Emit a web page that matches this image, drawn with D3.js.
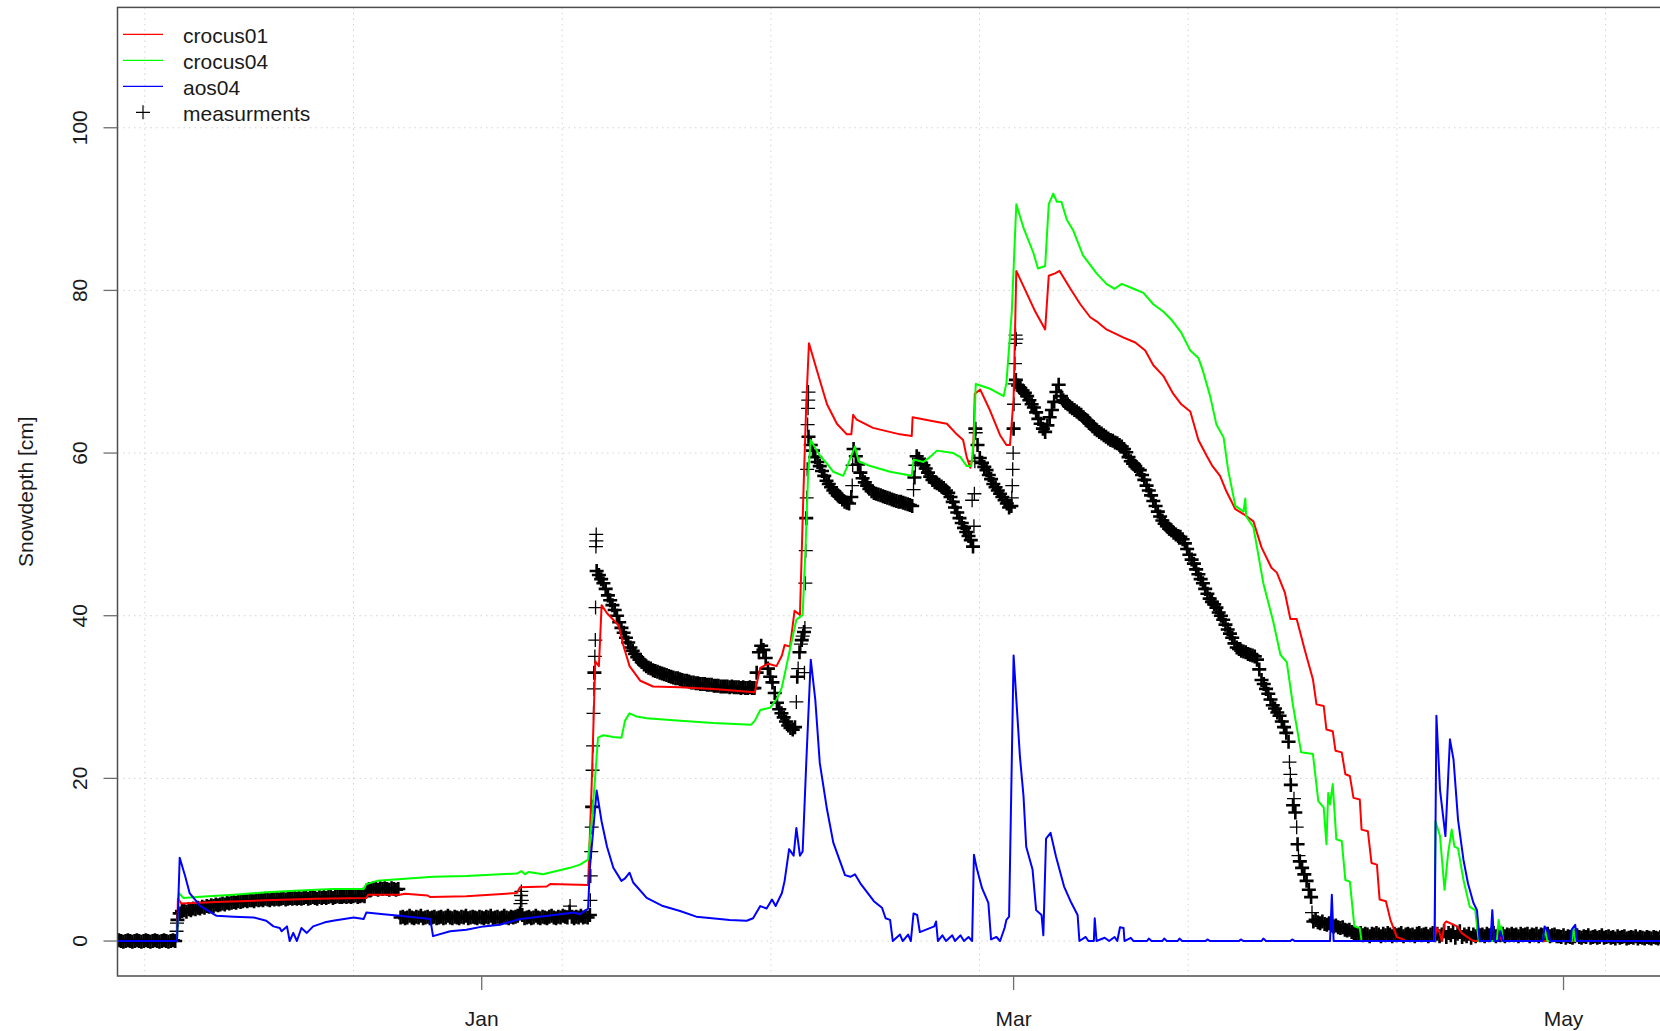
<!DOCTYPE html>
<html>
<head>
<meta charset="utf-8">
<script src="https://cdn.jsdelivr.net/npm/d3@7"></script>
<style>
  html, body { margin: 0; padding: 0; background: #fff; }
  svg { display: block; font-family: 'Liberation Sans', Arial, Helvetica, sans-serif; }
</style>
</head>
<body>
<svg width="1660" height="1031"></svg>
<script>
// all series use days counted from 2017-01-01 00:00 UTC
const crocus01 = [
  [-40.6, 0], [-33.8, 0], [-33.7, 5.2], [-33.3, 4.6], [-29.4, 4.8], [-23.9, 5.0], [-18.3, 5.2],
  [-12.8, 5.3], [-12.6, 5.7], [-9.1, 5.7], [-8.5, 5.8], [-6.0, 5.6], [-5.7, 5.4], [-1.7, 5.5],
  [3.9, 5.9], [4.25, 6.6], [7.2, 6.7], [7.6, 7.0], [11.8, 6.9], [12.2, 19.3], [12.6, 34.4],
  [13.0, 33.8], [13.3, 41.3], [13.9, 40.3], [15.2, 38.8], [15.7, 36.4], [16.4, 33.8], [17.6, 32.0],
  [19.0, 31.3], [22.0, 31.2], [25.7, 31.0], [30.3, 30.6], [30.9, 33.6], [31.8, 34.1], [32.7, 33.8],
  [33.3, 35.1], [33.6, 36.4], [34.2, 36.2], [34.7, 40.6], [35.3, 40.1], [35.7, 55.6], [36.0, 66.0],
  [36.3, 73.5], [37.2, 70.1], [38.3, 66.0], [39.4, 63.6], [40.5, 62.3], [41.0, 62.3], [41.2, 64.7],
  [41.6, 64.1], [43.4, 63.1], [46.4, 62.3], [47.7, 62.1], [47.8, 64.4], [50.1, 63.9], [51.6, 63.6],
  [52.7, 62.3], [53.4, 61.6], [53.8, 59.5], [54.2, 58.2], [54.5, 59.7], [54.7, 67.3], [55.3, 67.8],
  [56.4, 65.2], [57.5, 62.2], [58.2, 61.0], [58.6, 61.0], [59.0, 66.7], [59.3, 82.4], [60.1, 80.5],
  [61.4, 77.4], [62.5, 75.2], [62.9, 81.8], [63.6, 82.1], [64.1, 82.4], [65.3, 80.2], [66.4, 78.3],
  [67.5, 76.7], [68.2, 76.2], [69.3, 75.2], [71.2, 74.2], [72.5, 73.6], [73.6, 72.6], [74.5, 70.8],
  [75.6, 69.5], [76.7, 67.3], [77.6, 66.0], [78.6, 65.1], [79.5, 61.6], [80.4, 59.7], [81.0, 58.5],
  [81.9, 57.2], [82.6, 55.3], [83.6, 53.1], [84.5, 52.5], [85.6, 51.6], [86.5, 48.4], [87.6, 45.9],
  [88.2, 45.3], [89.1, 42.8], [89.7, 39.6], [90.4, 39.6], [91.3, 35.8], [92.2, 32.2], [92.6, 29.1],
  [93.4, 28.9], [93.7, 26.0], [94.4, 25.8], [94.7, 23.4], [95.4, 23.2], [95.8, 20.5], [96.3, 20.3],
  [96.7, 17.6], [97.4, 17.4], [97.6, 13.7], [98.3, 13.5], [98.7, 9.6], [99.3, 9.4], [99.6, 5.1],
  [100.3, 4.9], [100.8, 2.6], [101.5, 0.5], [102.2, 0.2], [102.5, 0], [105.7, 0], [105.9, 1.6],
  [106.2, 1.2], [106.5, 0], [106.8, 2.2], [107.0, 2.4], [107.6, 2.1], [108.2, 1.8], [108.7, 1.0],
  [109.3, 0.5], [110.0, 0], [112.7, 0], [112.9, 0.7], [113.2, 0], [135, 0]
];

const crocus04 = [
  [-40.6, 0], [-33.8, 0], [-33.6, 5.9], [-33.1, 5.3], [-31.2, 5.45], [-27.5, 5.7], [-23.9, 6.0],
  [-20.2, 6.2], [-16.5, 6.4], [-13.1, 6.4], [-12.8, 7.0], [-11.6, 7.4], [-5.4, 7.9], [-1.7, 8.0],
  [3.9, 8.3], [4.4, 8.6], [4.8, 8.2], [5.2, 8.5], [6.8, 8.2], [9.8, 9.0], [10.9, 9.4], [11.8, 10.0],
  [12.2, 14.7], [12.6, 20.4], [12.9, 25.0], [13.5, 25.3], [14.6, 25.1], [15.5, 25.0], [15.9, 27.1],
  [16.4, 28.0], [17.2, 27.6], [18.3, 27.4], [22.0, 27.1], [25.7, 26.8], [29.9, 26.6], [30.3, 27.1],
  [30.9, 28.4], [32.0, 28.7], [32.7, 29.7], [33.3, 31.2], [33.8, 33.8], [34.2, 35.9], [34.9, 39.5],
  [35.6, 40.1], [35.9, 47.8], [36.2, 57.2], [36.5, 61.6], [36.8, 61.0], [37.5, 59.7], [38.3, 58.7],
  [39.0, 57.7], [40.1, 57.2], [40.5, 58.2], [41.0, 59.7], [41.4, 60.8], [41.8, 59.0], [43.1, 58.4],
  [45.3, 57.7], [47.7, 57.2], [47.9, 59.2], [49.0, 58.9], [49.7, 59.5], [50.5, 60.3], [52.3, 60.0],
  [53.1, 59.5], [53.8, 58.4], [54.3, 58.4], [54.6, 61.8], [54.8, 68.5], [56.4, 67.9], [57.9, 67.0],
  [58.2, 68.6], [58.8, 77.4], [59.3, 90.6], [60.1, 87.7], [61.2, 84.6], [61.7, 82.7], [62.5, 83.0],
  [62.9, 90.6], [63.4, 91.9], [63.8, 90.9], [64.3, 90.9], [64.9, 88.7], [65.6, 87.4], [66.7, 84.3],
  [68.2, 82.1], [69.3, 80.8], [70.2, 80.2], [71.0, 80.8], [72.3, 80.2], [73.4, 79.7], [74.5, 78.3],
  [75.6, 77.4], [76.5, 76.4], [77.6, 74.8], [78.6, 72.6], [79.5, 71.7], [80.0, 70.1], [80.8, 67.0],
  [81.5, 63.5], [82.3, 61.9], [82.8, 57.9], [83.6, 53.5], [84.5, 52.8], [84.7, 54.4], [84.8, 52.2],
  [85.6, 50.9], [86.0, 48.4], [86.7, 44.0], [87.8, 39.3], [88.6, 35.2], [89.3, 34.3], [90.0, 28.9],
  [90.9, 23.2], [92.2, 23.0], [92.8, 17.2], [93.4, 16.4], [93.7, 11.9], [93.9, 18.2], [94.1, 16.8],
  [94.4, 19.3], [94.8, 12.5], [95.4, 12.3], [95.8, 7.5], [96.3, 7.3], [96.8, 1.8], [97.4, 1.6],
  [97.6, 0], [105.7, 0], [105.8, 14.7], [106.3, 12.9], [106.8, 6.3], [107.2, 10.8], [107.6, 13.7],
  [107.9, 11.6], [108.3, 11.4], [108.9, 7.5], [109.6, 4.2], [110.2, 3.8], [110.6, 0], [112.6, 0],
  [112.8, 2.6], [113.0, 1.2], [113.1, 1.8], [113.3, 0], [117.7, 0], [117.9, 1.6], [118.2, 0],
  [120.9, 0], [121.1, 1.6], [121.3, 0], [135, 0]
];

const aos04 = [
  [-40.6, 0], [-33.8, 0], [-33.5, 10.25], [-32.9, 8.0], [-32.4, 5.9], [-31.2, 4.3], [-29.4, 3.1],
  [-27.5, 3.0], [-25.3, 2.9], [-23.9, 2.5], [-23.1, 1.8], [-22.4, 1.6], [-22.2, 1.2], [-21.6, 1.8],
  [-21.3, 0], [-20.9, 1.0], [-20.5, 0], [-20.0, 1.6], [-19.4, 1.0], [-18.7, 1.8], [-17.4, 2.3],
  [-16.5, 2.5], [-14.2, 2.9], [-13.1, 2.7], [-12.8, 3.5], [-10.9, 3.3], [-9.1, 3.1], [-5.7, 2.7],
  [-5.4, 0.6], [-3.5, 1.2], [-1.7, 1.4], [0.2, 1.8], [2.0, 2.0], [4.25, 2.7], [5.7, 2.9], [8.7, 3.3],
  [10.2, 3.5], [10.9, 3.3], [11.8, 4.0], [12.0, 9.0], [12.75, 18.5], [13.3, 14.7], [13.9, 11.6],
  [14.6, 9.0], [15.5, 7.4], [15.9, 7.7], [16.4, 8.4], [16.8, 7.2], [18.3, 5.3], [20.1, 4.3],
  [22.0, 3.7], [23.8, 3.0], [26.4, 2.7], [27.5, 2.6], [29.4, 2.5], [30.1, 2.8], [30.9, 4.3],
  [31.6, 4.0], [32.2, 5.1], [32.6, 4.3], [33.3, 5.9], [33.6, 7.4], [34.1, 11.3], [34.6, 10.5],
  [34.9, 13.9], [35.3, 10.5], [35.6, 11.0], [36.0, 21.9], [36.5, 34.6], [37.0, 29.7], [37.5, 21.9],
  [38.3, 16.2], [39.0, 12.1], [39.75, 9.8], [40.3, 8.1], [40.9, 7.9], [41.4, 8.2], [42.0, 7.1],
  [43.5, 4.9], [44.4, 4.1], [44.8, 2.8], [45.3, 2.6], [45.6, 0], [46.4, 0.8], [46.7, 0], [47.3, 0.8],
  [47.6, 0], [47.9, 3.4], [48.3, 3.2], [48.6, 1.1], [50.2, 1.8], [50.4, 2.4], [50.6, 0], [51.1, 0.7],
  [51.5, 0], [52.2, 0.7], [52.5, 0], [53.1, 0.7], [53.5, 0], [54.0, 0.5], [54.4, 0], [54.6, 10.6],
  [54.9, 9.0], [55.5, 6.5], [56.2, 4.7], [56.5, 0.2], [57.1, 0.5], [57.5, 0], [58.0, 1.6], [58.2, 2.6],
  [58.5, 3.0], [59.0, 35.1], [59.7, 22.7], [60.1, 17.8], [60.4, 11.6], [61.1, 8.8], [61.5, 3.8],
  [62.1, 3.2], [62.3, 0.7], [62.6, 12.6], [63.1, 13.3], [63.7, 10.4], [64.6, 6.7], [65.4, 4.7],
  [66.1, 3.2], [66.3, 0], [67.0, 0.5], [67.3, 0], [67.9, 0], [68.0, 2.8], [68.2, 0], [69.1, 0.4],
  [69.6, 0], [70.2, 0.5], [70.5, 0], [70.8, 1.7], [71.2, 1.6], [71.3, 0], [72.0, 0.4], [72.3, 0],
  [73.8, 0], [74.0, 0.3], [74.3, 0], [75.5, 0], [75.7, 0.3], [76.0, 0], [77.2, 0], [77.4, 0.3],
  [77.7, 0], [80.3, 0], [80.5, 0.2], [80.8, 0], [84.0, 0], [84.2, 0.2], [84.5, 0], [86.5, 0],
  [86.7, 0.3], [87.0, 0], [89.7, 0], [89.9, 0.2], [90.2, 0], [94.1, 0], [94.3, 5.7], [94.5, 0],
  [105.7, 0], [105.9, 27.7], [106.3, 18.6], [106.9, 12.9], [107.4, 24.8], [107.8, 22.3], [108.3, 14.9],
  [108.9, 10.0], [109.4, 7.1], [110.0, 4.7], [110.4, 3.8], [110.7, 0], [111.9, 0], [112.1, 3.8],
  [112.3, 0], [112.8, 0], [113.0, 1.2], [113.3, 0], [117.7, 0], [117.9, 1.8], [118.3, 1.2],
  [118.5, 0], [120.8, 0], [120.9, 1.4], [121.3, 2.0], [121.5, 0], [135, 0]
];

// measured snow depth, one value every 6 hours from day -40.5
const measStart = -40.5;
const measStep = 0.25;
const measurements = [
  0, 0.1, 0, -0.1, 0, 0.1, 0, -0.1, 0, 0.1, 0, -0.1, 0, 0.1, 0, -0.1, 0, 0.1, 0, -0.1,
  0, 0.1, 0, -0.1, 0, 0.1, 0, 2.6, 3.4, 3.7, 3.8, 3.6, 3.9, 3.8, 4.0, 3.9, 4.1, 4.0, 4.2, 4.1,
  4.3, 4.2, 4.4, 4.3, 4.5, 4.4, 4.5, 4.6, 4.5, 4.7, 4.6, 4.7, 4.8, 4.7, 4.9, 4.8, 4.9, 5.0, 4.9, 5.0,
  5.0, 4.9, 5.1, 5.0, 5.1, 5.0, 5.2, 5.1, 5.0, 5.2, 5.1, 5.2, 5.1, 5.2, 5.3, 5.1, 5.2, 5.3, 5.2, 5.3,
  5.2, 5.3, 5.2, 5.3, 5.4, 5.2, 5.3, 5.4, 5.3, 5.2, 5.4, 5.3, 5.4, 5.3, 5.4, 5.5, 5.3, 5.4, 5.5, 5.4,
  5.4, 5.5, 5.4, 5.5, 5.4, 5.5, 5.6, 5.4, 5.5, 5.6, 5.5, 6.2, 6.4, 6.3, 6.5, 6.4, 6.3, 6.5, 6.4, 6.5,
  6.4, 6.3, 6.5, 6.4, 6.3, 6.4, 2.9, 3.0, 2.8, 2.9, 3.1, 2.9, 2.8, 3.0, 2.9, 3.1, 2.8, 2.9, 3.0, 2.8,
  2.9, 3.0, 2.8, 2.9, 3.0, 2.8, 2.9, 3.1, 2.9, 2.8, 3.0, 2.9, 2.8, 3.0, 2.9, 3.1, 2.8, 2.9, 3.0, 2.9,
  2.8, 3.0, 2.9, 2.8, 3.0, 2.9, 3.1, 2.8, 2.9, 3.0, 2.8, 2.9, 3.1, 2.9, 2.8, 3.0, 2.9, 3.0, 3.1, 3.4,
  3.2, 2.8, 2.9, 3.0, 2.8, 2.9, 3.1, 2.9, 2.8, 3.0, 2.9, 2.8, 3.0, 3.1, 2.9, 2.8, 3.0, 2.9, 3.1, 3.0,
  2.9, 3.6, 3.0, 2.8, 3.0, 2.9, 3.1, 2.9, 3.0, 2.9, 3.2, 16.5, 33.0, 45.5, 45.0, 44.5, 44.0, 43.3, 42.5, 41.9,
  41.3, 40.7, 40.0, 39.2, 38.5, 37.9, 37.3, 36.7, 36.1, 35.7, 35.3, 34.9, 34.6, 34.3, 34.0, 33.8, 33.6, 33.5, 33.3, 33.2,
  33.1, 33.0, 32.9, 32.8, 32.7, 32.6, 32.5, 32.4, 32.3, 32.3, 32.2, 32.1, 32.0, 32.0, 31.9, 31.8, 31.8, 31.7, 31.7, 31.6,
  31.6, 31.6, 31.5, 31.5, 31.5, 31.4, 31.4, 31.4, 31.3, 31.3, 31.3, 31.3, 31.2, 31.3, 31.2, 31.2, 31.2, 31.1, 31.2, 31.1,
  31.1, 31.2, 31.1, 31.1, 33.0, 35.5, 36.3, 35.8, 34.8, 33.5, 32.5, 31.8, 30.5, 29.3, 28.5, 28.0, 27.5, 27.0, 26.5, 26.2,
  26.0, 26.3, 32.5, 35.5, 37.0, 38.0, 52.0, 62.0, 61.0, 60.3, 59.5, 58.9, 58.4, 57.8, 57.2, 56.6, 56.2, 55.8, 55.4, 55.1,
  54.8, 54.6, 54.3, 54.0, 53.9, 53.8, 54.6, 60.5, 59.6, 58.6, 57.6, 56.9, 56.4, 56.0, 55.6, 55.3, 55.1, 55.0, 54.9, 54.8,
  54.7, 54.6, 54.5, 54.4, 54.3, 54.2, 54.1, 54.0, 54.0, 53.9, 53.8, 53.7, 53.6, 53.5, 57.0, 59.6, 59.3, 58.8, 58.5, 58.1,
  57.6, 57.1, 56.7, 56.4, 56.3, 56.1, 55.9, 55.7, 55.4, 55.1, 54.6, 54.0, 53.3, 52.7, 52.0, 51.4, 50.8, 50.3, 49.8, 49.3,
  48.5, 63.0, 61.0, 59.4, 58.8, 58.3, 57.9, 57.3, 56.8, 56.2, 55.8, 55.4, 55.0, 54.6, 54.2, 53.8, 53.3, 53.5, 63.0, 69.0,
  68.3, 68.0, 67.7, 67.4, 67.0, 66.5, 66.0, 65.6, 65.0, 64.2, 63.6, 63.0, 62.6, 63.4, 64.4, 65.3, 66.3, 67.5, 68.4, 67.0,
  66.5, 66.2, 66.0, 65.7, 65.5, 65.3, 65.1, 64.9, 64.7, 64.4, 64.1, 63.9, 63.6, 63.3, 63.0, 62.8, 62.6, 62.4, 62.2, 62.0,
  61.8, 61.6, 61.5, 61.3, 61.2, 61.0, 60.8, 60.5, 60.1, 59.5, 59.0, 58.7, 58.4, 58.1, 57.9, 57.3, 56.7, 56.0, 55.4, 54.8,
  54.1, 53.5, 52.8, 52.2, 51.7, 51.3, 51.0, 50.7, 50.5, 50.2, 50.0, 49.8, 49.7, 49.4, 48.9, 48.2, 47.5, 46.9, 46.4, 45.7,
  45.1, 44.5, 44.0, 43.3, 42.7, 42.1, 41.7, 41.4, 41.0, 40.4, 40.0, 39.5, 38.9, 38.3, 37.8, 37.3, 36.6, 36.1, 35.9, 35.7,
  35.6, 35.5, 35.3, 35.2, 35.1, 35.0, 34.6, 33.4, 32.1, 31.6, 31.0, 30.4, 29.7, 29.0, 28.6, 28.1, 27.7, 27.0, 26.3, 25.6,
  24.5, 19.2, 16.7, 15.8, 11.9, 9.8, 9.0, 8.2, 7.4, 6.3, 5.4, 2.4, 2.6, 2.3, 2.2, 2.4, 2.1, 2.0, 2.2, 1.9,
  1.8, 1.9, 1.7, 1.6, 1.7, 1.4, 1.3, 1.4, 1.1, 1.0, 0.9, 0.8, 1.0, 0.7, 0.9, 0.8, 0.6, 0.9, 0.8, 1.0,
  0.8, 0.6, 0.9, 0.7, 1.0, 0.8, 0.6, 0.9, 0.7, 0.8, 1.0, 0.6, 0.8, 0.9, 0.7, 0.8, 0.6, 0.9, 1.0, 0.7,
  0.8, 0.9, 0.6, 0.8, 1.0, 0.7, 0.9, 0.6, 0.8, 1.2, 0.5, 1.0, 0.7, 1.1, 0.4, 0.9, 1.2, 0.5, 0.8, 0.6,
  0.9, 0.4, 0.8, 0.6, 0.9, 0.7, 0.8, 0.6, 0.9, 0.7, 0.8, 1.0, 0.6, 0.8, 0.7, 0.9, 0.6, 0.8, 0.7, 0.9,
  0.7, 0.8, 0.6, 0.9, 0.7, 0.8, 0.9, 0.6, 0.8, 0.7, 0.9, 0.6, 0.8, 0.7, 0.8, 0.9, 0.6, 0.7, 0.8, 0.6,
  0.6, 0.5, 0.7, 0.4, 0.6, 0.5, 0.4, 0.6, 0.7, 0.5, 0.4, 0.6, 0.5, 0.7, 0.4, 0.5, 0.6, 0.4, 0.5, 0.7,
  0.4, 0.5, 0.6, 0.4, 0.5, 0.3, 0.6, 0.4, 0.5, 0.6, 0.3, 0.4, 0.5, 0.4, 0.6, 0.3, 0.5, 0.4, 0.3, 0.5,
  0.4, 0.3, 0.5, 0.4, 0.3, 0.5, 0.4
];

// hourly readings during the fast rises, read individually
const measExtra = [
  [-33.85, 1.2], [-33.8, 2.2], [4.3, 4.6], [4.35, 5.6], [4.4, 6.1], [4.45, 5.0], [9.8, 4.3],
  [12.05, 5.0], [12.1, 8.0], [12.15, 11.0], [12.2, 14.0], [12.3, 21.0], [12.35, 24.0], [12.4, 28.0],
  [12.45, 31.0], [12.55, 35.0], [12.6, 37.0], [12.63, 41.0], [12.67, 48.5], [12.7, 50.0], [12.72, 49.2],
  [34.9, 29.4], [35.1, 33.5], [35.4, 36.5], [35.6, 37.5], [35.8, 33.0], [35.85, 38.5], [35.9, 44.0],
  [35.95, 48.0], [36.05, 54.5], [36.1, 58.0], [36.15, 63.5], [36.2, 65.5], [36.22, 66.5], [36.25, 67.5],
  [41.1, 56.0], [41.15, 58.5], [47.9, 55.5], [48.1, 58.5],
  [54.4, 54.2], [54.6, 51.0], [54.65, 55.0], [54.7, 59.0], [54.8, 62.5],
  [58.8, 54.5], [58.85, 56.0], [58.9, 58.0], [58.95, 60.0], [59.05, 66.0], [59.1, 68.5], [59.15, 71.0],
  [59.2, 73.5], [59.22, 74.5], [59.3, 74.0],
  [89.6, 22.0], [89.7, 20.5], [90.1, 17.5], [90.4, 14.0], [90.6, 10.5], [92.1, 3.5]
];

const seriesNames = ['crocus01', 'crocus04', 'aos04', 'measurments'];
const seriesColors = ['#ff0000', '#00ff00', '#0000ff', '#000000'];
const yTicks = [0, 20, 40, 60, 80, 100];
const xTickDates = ['2017-01-01', '2017-03-01', '2017-05-01'];
const xTickLabels = ['Jan', 'Mar', 'May'];
const xlim = ['2016-11-21T14:24:00Z', '2017-05-16T03:20:00Z'];
const ylim = [-4.3, 114.8];
const gridStepSec = 2e6;

const svg = d3.select('svg');
const margin = { top: 7.4, right: -40, bottom: 55, left: 117.5 };
const W = +svg.attr('width');
const H = +svg.attr('height');
const x0 = margin.left;
const x1 = W - margin.right;
const yBottom = H - margin.bottom;

const dayMs = 864e5;
const origin = Date.UTC(2017, 0, 1);
const toDate = day => new Date(origin + day * dayMs);

const x = d3.scaleUtc().domain(xlim.map(s => new Date(s))).range([x0, x1]);
const y = d3.scaleLinear().domain(ylim).range([yBottom, margin.top]);

svg.append('rect').attr('width', W).attr('height', H).attr('fill', '#fff');

svg.append('clipPath').attr('id', 'plotclip')
  .append('rect')
  .attr('x', x0).attr('y', margin.top)
  .attr('width', x1 - x0).attr('height', yBottom - margin.top);

// grid lines (R grid(): axTicks on seconds since epoch)
const tStart = x.domain()[0].getTime();
const tEnd = x.domain()[1].getTime();
const stepMs = gridStepSec * 1000;
const vGrid = d3.range(Math.ceil(tStart / stepMs) * stepMs, tEnd, stepMs);

const grid = svg.append('g')
  .attr('stroke', '#d3d3d3')
  .attr('stroke-width', 1)
  .attr('stroke-dasharray', '1.5,4');
grid.selectAll('line.v').data(vGrid).join('line')
  .attr('class', 'v')
  .attr('x1', d => x(new Date(d))).attr('x2', d => x(new Date(d)))
  .attr('y1', margin.top).attr('y2', yBottom);
grid.selectAll('line.h').data(yTicks).join('line')
  .attr('class', 'h')
  .attr('x1', x0).attr('x2', x1)
  .attr('y1', d => y(d)).attr('y2', d => y(d));

const plot = svg.append('g').attr('clip-path', 'url(#plotclip)');

// measurement crosses (pch = 3); each 6-hourly cross stands for a run of hourly ones,
// so it is stroked heavier to give the dense band of the original
const cross = 7;
const crossPath = d => {
  const px = x(toDate(d[0]));
  const py = y(d[1]);
  return `M${px - cross},${py}h${2 * cross}M${px},${py - cross}v${2 * cross}`;
};
const regular = measurements.map((v, i) => [measStart + i * measStep, v]);
plot.append('g')
  .attr('stroke', '#000').attr('stroke-width', 2.6).attr('fill', 'none')
  .selectAll('path').data(regular).join('path')
  .attr('d', crossPath);
plot.append('g')
  .attr('stroke', '#000').attr('stroke-width', 1.3).attr('fill', 'none')
  .selectAll('path').data(measExtra).join('path')
  .attr('d', crossPath);

const line = d3.line()
  .x(d => x(toDate(d[0])))
  .y(d => y(d[1]));

[crocus01, crocus04, aos04].forEach((series, i) => {
  plot.append('path')
    .datum(series)
    .attr('fill', 'none')
    .attr('stroke', seriesColors[i])
    .attr('stroke-width', 2)
    .attr('stroke-linejoin', 'round')
    .attr('d', line);
});

// box
svg.append('rect')
  .attr('x', x0).attr('y', margin.top)
  .attr('width', x1 - x0).attr('height', yBottom - margin.top)
  .attr('fill', 'none')
  .attr('stroke', '#4d4d4d')
  .attr('stroke-width', 1.5);

// y axis
const yAxis = svg.append('g');
yAxis.selectAll('line').data(yTicks).join('line')
  .attr('x1', x0 - 14).attr('x2', x0)
  .attr('y1', d => y(d)).attr('y2', d => y(d))
  .attr('stroke', '#6e6e6e').attr('stroke-width', 1.3);
yAxis.selectAll('text').data(yTicks).join('text')
  .attr('transform', d => `translate(87,${y(d)}) rotate(-90)`)
  .attr('text-anchor', 'middle')
  .attr('font-size', 21)
  .attr('fill', '#1a1a1a')
  .text(d => d);

svg.append('text')
  .attr('transform', `translate(32.5,${(margin.top + yBottom) / 2}) rotate(-90)`)
  .attr('text-anchor', 'middle')
  .attr('font-size', 21)
  .attr('fill', '#1a1a1a')
  .text('Snowdepth [cm]');

// x axis
const xAxis = svg.append('g');
xAxis.selectAll('line').data(xTickDates).join('line')
  .attr('x1', d => x(new Date(d))).attr('x2', d => x(new Date(d)))
  .attr('y1', yBottom).attr('y2', yBottom + 14)
  .attr('stroke', '#6e6e6e').attr('stroke-width', 1.3);
xAxis.selectAll('text').data(xTickDates).join('text')
  .attr('x', d => x(new Date(d)))
  .attr('y', yBottom + 50)
  .attr('text-anchor', 'middle')
  .attr('font-size', 21)
  .attr('fill', '#1a1a1a')
  .text((d, i) => xTickLabels[i]);

// legend (bty = "n")
const legend = svg.append('g').attr('transform', 'translate(123,34.3)');
const rows = legend.selectAll('g').data(seriesNames).join('g')
  .attr('transform', (d, i) => `translate(0,${i * 26})`);
rows.filter((d, i) => i < 3).append('line')
  .attr('x1', 0).attr('x2', 40).attr('y1', 0).attr('y2', 0)
  .attr('stroke', (d, i) => seriesColors[i])
  .attr('stroke-width', 1.3);
rows.filter((d, i) => i === 3).append('path')
  .attr('d', `M${20 - cross},0h${2 * cross}M20,${-cross}v${2 * cross}`)
  .attr('stroke', '#000').attr('stroke-width', 1.2);
rows.append('text')
  .attr('x', 60).attr('y', 8.5)
  .attr('font-size', 21)
  .attr('fill', '#1a1a1a')
  .text(d => d);
</script>
</body>
</html>
